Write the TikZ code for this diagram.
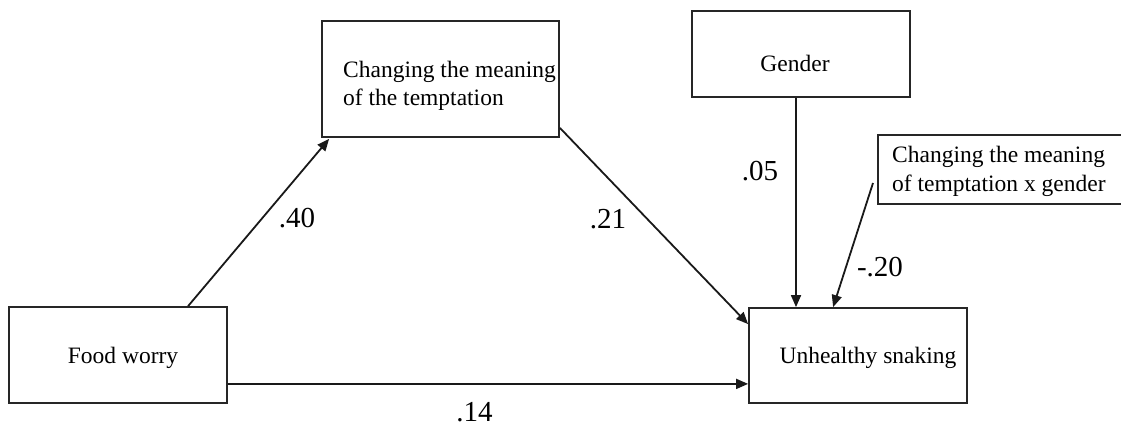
\documentclass[tikz,border=0pt]{standalone}
\usepackage{fontspec}
\setmainfont{Liberation Serif}
\usetikzlibrary{arrows.meta}
\begin{document}
\begin{tikzpicture}[x=1pt,y=-1pt,
  box/.style={draw=black!85, line width=1.8pt, rectangle, inner sep=0pt},
  boxtext/.style={font=\fontsize{23.5}{28.5}\selectfont, inner sep=0pt, align=left},
  coef/.style={font=\fontsize{29}{32}\selectfont, inner sep=0pt},
  arr/.style={draw=black!90, line width=1.8pt, -{Triangle[length=12pt,width=10pt]}}]
\useasboundingbox (0,0) rectangle (1121,428);
% boxes
\node[box, minimum width=218pt, minimum height=96pt] (fw) at (118,355) {};
\node[box, minimum width=237pt, minimum height=116pt] (ct) at (440.5,79) {};
\node[box, minimum width=218pt, minimum height=86pt] (gd) at (801,54) {};
\node[box, minimum width=218pt, minimum height=95pt] (us) at (858,355.5) {};
\node[box, minimum width=250pt, minimum height=69pt] (ix) at (1003,169.5) {};
% texts
\node[boxtext] (fwt) at (123,358) {Food worry};
\node[boxtext, anchor=west] (ctt) at (343,86) {Changing the meaning\\of the temptation};
\node[boxtext] (gdt) at (795,63) {Gender};
\node[boxtext] (ust) at (868,358) {Unhealthy snaking};
\node[boxtext, anchor=west] (ixt) at (892,171.5) {Changing the meaning\\of temptation x gender};
% connectors
\draw[arr] ([xshift=180pt]fw.north west) -- ([xshift=8pt,yshift=-1pt]ct.south west);
\draw[arr] ([yshift=10pt]ct.south east) -- ([yshift=-17pt]us.north west);
\draw[arr] ([yshift=20pt]fw.south east) -- ([yshift=20pt]us.south west);
\draw[arr] ([xshift=-5pt]gd.south) -- ([xshift=-5pt]gd.south |- us.north);
\coordinate (ixs) at (873,183);
\draw[arr] (ixs) -- ([xshift=85pt]us.north west);
% coefficients
\node[coef] (c40) at (297,218) {.40};
\node[coef] (c21) at (608,219) {.21};
\node[coef] (c05) at (760,171) {.05};
\node[coef] (c20) at (880,267) {-.20};
\node[coef] (c14) at (474.5,412.5) {.14};
\end{tikzpicture}
\end{document}
